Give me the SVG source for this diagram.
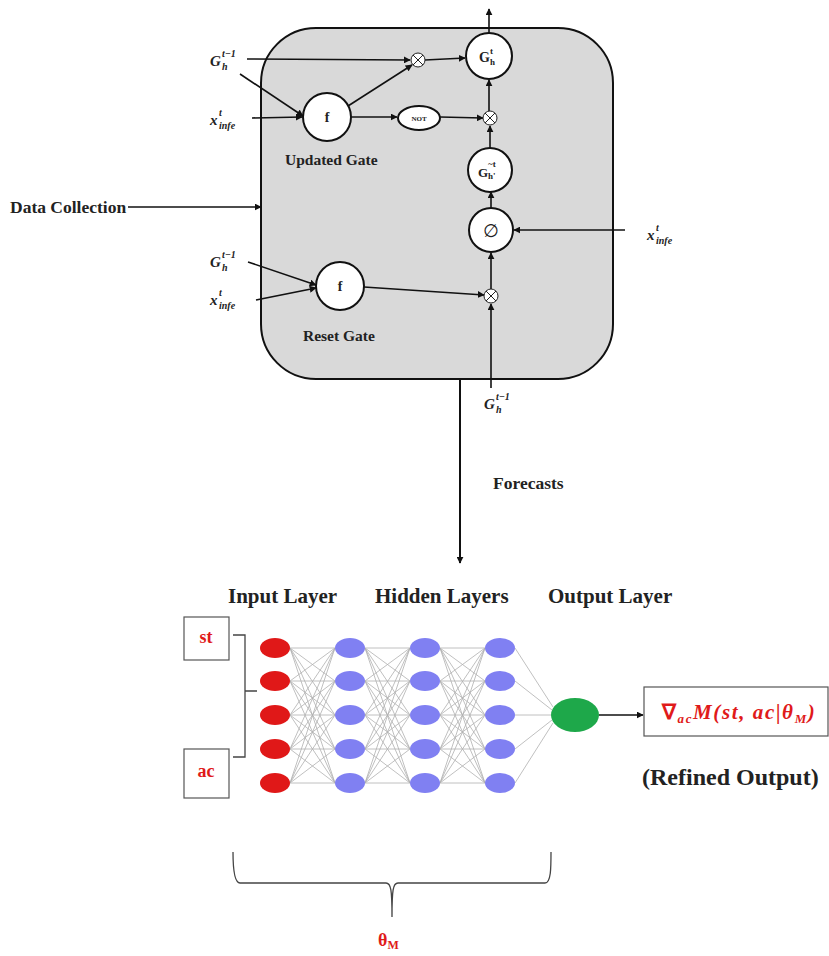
<svg xmlns="http://www.w3.org/2000/svg" xmlns:xlink="http://www.w3.org/1999/xlink" width="829" height="956" viewBox="0 0 829 956">
<style>
.t{font-family:"Liberation Serif","Times New Roman",serif;font-weight:bold;fill:#222}
.m{font-family:"Liberation Serif","Times New Roman",serif;font-weight:bold;font-style:italic;fill:#222}
.s{font-family:"Liberation Serif","Times New Roman",serif;font-weight:bold;font-style:italic;fill:#222;font-size:10px}
.red{fill:#e01a1a}
.ln{stroke:#111;stroke-width:1.6;fill:none}
.nd{fill:#fff;stroke:#111;stroke-width:2}
.ox{fill:#fff;stroke:#222;stroke-width:1}
.mesh line{stroke:#b0b0b0;stroke-width:0.8}
.in{fill:#e01818}
.hid{fill:#8080f2}
.out{fill:#1ea84a}
.bx{fill:#fff;stroke:#555;stroke-width:1.2}
.br{fill:none;stroke:#444;stroke-width:1.3}
</style>
<defs>
<marker id="ah" viewBox="0 0 10 10" refX="9" refY="5" markerWidth="7" markerHeight="7" orient="auto" markerUnits="userSpaceOnUse">
<path d="M0,0 L10,5 L0,10 z" fill="#111"/>
</marker>
<g id="mesh" class="mesh">
<line x1="15" y1="648" x2="60" y2="648"/><line x1="15" y1="648" x2="60" y2="681"/><line x1="15" y1="648" x2="60" y2="715"/><line x1="15" y1="648" x2="60" y2="749"/><line x1="15" y1="648" x2="60" y2="783"/>
<line x1="15" y1="681" x2="60" y2="648"/><line x1="15" y1="681" x2="60" y2="681"/><line x1="15" y1="681" x2="60" y2="715"/><line x1="15" y1="681" x2="60" y2="749"/><line x1="15" y1="681" x2="60" y2="783"/>
<line x1="15" y1="715" x2="60" y2="648"/><line x1="15" y1="715" x2="60" y2="681"/><line x1="15" y1="715" x2="60" y2="715"/><line x1="15" y1="715" x2="60" y2="749"/><line x1="15" y1="715" x2="60" y2="783"/>
<line x1="15" y1="749" x2="60" y2="648"/><line x1="15" y1="749" x2="60" y2="681"/><line x1="15" y1="749" x2="60" y2="715"/><line x1="15" y1="749" x2="60" y2="749"/><line x1="15" y1="749" x2="60" y2="783"/>
<line x1="15" y1="783" x2="60" y2="648"/><line x1="15" y1="783" x2="60" y2="681"/><line x1="15" y1="783" x2="60" y2="715"/><line x1="15" y1="783" x2="60" y2="749"/><line x1="15" y1="783" x2="60" y2="783"/>
</g>
</defs>

<g id="gru-box">
<rect x="261" y="28" width="352" height="351" rx="55" ry="55" fill="#d9d9d9" stroke="#111" stroke-width="2"/>
</g>

<g id="connectors">
<line class="ln" x1="247" y1="59" x2="410" y2="60" marker-end="url(#ah)"/>
<line class="ln" x1="240" y1="74" x2="303" y2="116" marker-end="url(#ah)"/>
<line class="ln" x1="252" y1="118" x2="302" y2="117" marker-end="url(#ah)"/>
<line class="ln" x1="348" y1="106" x2="412" y2="65" marker-end="url(#ah)"/>
<line class="ln" x1="351" y1="117" x2="397" y2="117" marker-end="url(#ah)"/>
<line class="ln" x1="440" y1="117" x2="483" y2="118" marker-end="url(#ah)"/>
<line class="ln" x1="425" y1="60" x2="465" y2="58" marker-end="url(#ah)"/>
<line class="ln" x1="489" y1="111" x2="489" y2="80" marker-end="url(#ah)"/>
<line class="ln" x1="490" y1="148" x2="490" y2="126" marker-end="url(#ah)"/>
<line class="ln" x1="491" y1="208" x2="491" y2="192" marker-end="url(#ah)"/>
<line class="ln" x1="491" y1="289" x2="491" y2="253" marker-end="url(#ah)"/>
<line class="ln" x1="491" y1="388" x2="491" y2="304" marker-end="url(#ah)"/>
<line class="ln" x1="364" y1="287" x2="484" y2="295" marker-end="url(#ah)"/>
<line class="ln" x1="248" y1="262" x2="316" y2="285" marker-end="url(#ah)"/>
<line class="ln" x1="256" y1="300" x2="316" y2="288" marker-end="url(#ah)"/>
<line class="ln" x1="625" y1="230" x2="514" y2="230" marker-end="url(#ah)"/>
<line class="ln" x1="489" y1="33" x2="489" y2="9" marker-end="url(#ah)"/>
<line class="ln" x1="128" y1="207" x2="261" y2="207" marker-end="url(#ah)"/>
<line x1="460" y1="379" x2="460" y2="563" stroke="#111" stroke-width="2" marker-end="url(#ah)"/>
<use xlink:href="#mesh" x="275"/>
<use xlink:href="#mesh" x="350"/>
<use xlink:href="#mesh" x="425"/>
<g class="mesh">
<line x1="515" y1="648" x2="553" y2="707"/>
<line x1="515" y1="681" x2="552" y2="710"/>
<line x1="515" y1="715" x2="551" y2="715"/>
<line x1="515" y1="749" x2="552" y2="720"/>
<line x1="515" y1="783" x2="553" y2="723"/>
</g>
<line class="ln" x1="599" y1="715" x2="643" y2="715" marker-end="url(#ah)"/>
</g>

<g id="node-Gt">
<circle class="nd" cx="489" cy="56" r="23"/>
<text class="t" x="479" y="62" font-size="14">G</text>
<text class="t" x="490" y="54" font-size="9">t</text>
<text class="t" x="490" y="65" font-size="9">h</text>
</g>
<g id="node-mul-top">
<circle class="ox" cx="418" cy="60" r="7"/>
<path d="M413,55 L423,65 M423,55 L413,65" stroke="#222" stroke-width="1"/>
</g>
<g id="node-f-update">
<circle class="nd" cx="327" cy="117" r="24"/>
<text class="t" x="327" y="122" font-size="14" text-anchor="middle">f</text>
</g>
<g id="node-not">
<ellipse class="nd" cx="419" cy="118" rx="21" ry="12" stroke-width="1.6"/>
<text class="t" x="419" y="121" font-size="7" text-anchor="middle">NOT</text>
</g>
<g id="node-mul-mid">
<circle class="ox" cx="490" cy="118" r="7"/>
<path d="M485,113 L495,123 M495,113 L485,123" stroke="#222" stroke-width="1"/>
</g>
<g id="node-Gtilde">
<circle class="nd" cx="490" cy="170" r="22"/>
<text class="t" x="478" y="177" font-size="13">G</text>
<text class="t" x="488" y="167" font-size="9">~t</text>
<text class="t" x="488" y="179" font-size="9">h'</text>
</g>
<g id="node-phi">
<circle class="nd" cx="491" cy="230" r="22"/>
<text x="491" y="237" font-family="DejaVu Sans, sans-serif" font-size="18" text-anchor="middle" fill="#222">∅</text>
</g>
<g id="node-f-reset">
<circle class="nd" cx="340" cy="286" r="24"/>
<text class="t" x="340" y="291" font-size="14" text-anchor="middle">f</text>
</g>
<g id="node-mul-bot">
<circle class="ox" cx="491" cy="296" r="7"/>
<path d="M486,291 L496,301 M496,291 L486,301" stroke="#222" stroke-width="1"/>
</g>

<g id="labels-gru">
<text class="m" x="210" y="66" font-size="15">G</text><text class="s" x="222" y="57">t−1</text><text class="s" x="222" y="70">h</text>
<text class="m" x="210" y="125" font-size="15">x</text><text class="s" x="219" y="116">t</text><text class="s" x="219" y="129">infe</text>
<text class="m" x="210" y="267" font-size="15">G</text><text class="s" x="222" y="258">t−1</text><text class="s" x="222" y="271">h</text>
<text class="m" x="210" y="305" font-size="15">x</text><text class="s" x="219" y="296">t</text><text class="s" x="219" y="309">infe</text>
<text class="m" x="647" y="240" font-size="15">x</text><text class="s" x="656" y="231">t</text><text class="s" x="656" y="244">infe</text>
<text class="m" x="484" y="409" font-size="15">G</text><text class="s" x="496" y="400">t−1</text><text class="s" x="496" y="413">h</text>
<text class="t" x="285" y="165" font-size="15.5">Updated Gate</text>
<text class="t" x="303" y="341" font-size="15.5">Reset Gate</text>
<text class="t" x="10" y="213" font-size="17.5">Data Collection</text>
<text class="t" x="493" y="489" font-size="17.5">Forecasts</text>
</g>

<g id="labels-nn">
<text class="t" x="228" y="603" font-size="21">Input Layer</text>
<text class="t" x="375" y="603" font-size="21">Hidden Layers</text>
<text class="t" x="548" y="603" font-size="21">Output Layer</text>
<text class="t" x="642" y="785" font-size="24">(Refined Output)</text>
</g>

<g id="node-st">
<rect class="bx" x="184" y="617" width="45" height="43"/>
<text class="t red" x="206" y="643" font-size="18" text-anchor="middle">st</text>
</g>
<g id="node-ac">
<rect class="bx" x="184" y="749" width="45" height="49"/>
<text class="t red" x="206" y="777" font-size="18" text-anchor="middle">ac</text>
</g>
<g id="brace-input">
<path class="br" d="M233,635 H245 V757 H233 M245,691 H257"/>
</g>

<g id="input-layer">
<ellipse class="in" cx="275" cy="648" rx="15" ry="10"/>
<ellipse class="in" cx="275" cy="681" rx="15" ry="10"/>
<ellipse class="in" cx="275" cy="715" rx="15" ry="10"/>
<ellipse class="in" cx="275" cy="749" rx="15" ry="10"/>
<ellipse class="in" cx="275" cy="783" rx="15" ry="10"/>
</g>
<g id="hidden-1">
<ellipse class="hid" cx="350" cy="648" rx="15" ry="10"/>
<ellipse class="hid" cx="350" cy="681" rx="15" ry="10"/>
<ellipse class="hid" cx="350" cy="715" rx="15" ry="10"/>
<ellipse class="hid" cx="350" cy="749" rx="15" ry="10"/>
<ellipse class="hid" cx="350" cy="783" rx="15" ry="10"/>
</g>
<g id="hidden-2">
<ellipse class="hid" cx="425" cy="648" rx="15" ry="10"/>
<ellipse class="hid" cx="425" cy="681" rx="15" ry="10"/>
<ellipse class="hid" cx="425" cy="715" rx="15" ry="10"/>
<ellipse class="hid" cx="425" cy="749" rx="15" ry="10"/>
<ellipse class="hid" cx="425" cy="783" rx="15" ry="10"/>
</g>
<g id="hidden-3">
<ellipse class="hid" cx="500" cy="648" rx="15" ry="10"/>
<ellipse class="hid" cx="500" cy="681" rx="15" ry="10"/>
<ellipse class="hid" cx="500" cy="715" rx="15" ry="10"/>
<ellipse class="hid" cx="500" cy="749" rx="15" ry="10"/>
<ellipse class="hid" cx="500" cy="783" rx="15" ry="10"/>
</g>
<g id="output-node">
<ellipse class="out" cx="575" cy="715" rx="24" ry="17"/>
</g>
<g id="node-refined">
<rect class="bx" x="644" y="687" width="184" height="49"/>
<text class="m red" x="662" y="719" font-size="21" letter-spacing="1.6"><tspan font-style="normal">∇</tspan><tspan font-size="13" dy="4">ac</tspan><tspan dy="-4">M(st, ac|θ</tspan><tspan font-size="13" dy="4">M</tspan><tspan dy="-4">)</tspan></text>
</g>

<g id="brace-theta">
<path class="br" d="M233,852 C233,868 234,883 240,883 H386 C391,883 392,890 392,917 M392,917 C392,890 393,883 398,883 H545 C551,883 551,868 551,852"/>
<text class="t red" x="378" y="946" font-size="18">θ<tspan font-size="12" dy="3">M</tspan></text>
</g>
</svg>
